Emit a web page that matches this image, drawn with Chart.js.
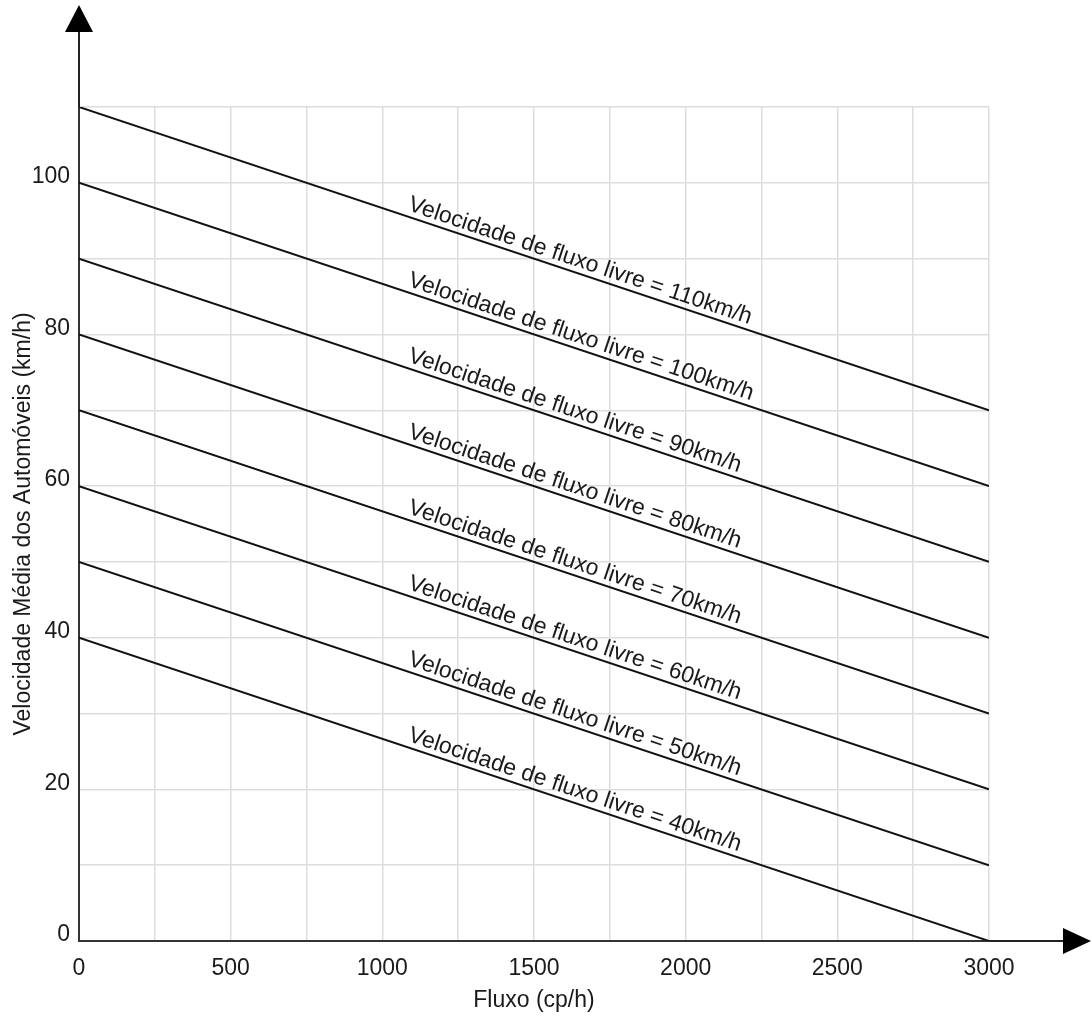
<!DOCTYPE html>
<html>
<head>
<meta charset="utf-8">
<title>Velocidade x Fluxo</title>
<script src="https://cdn.jsdelivr.net/npm/chart.js@4.4.0/dist/chart.umd.min.js"></script>
<style>
  html, body { margin: 0; padding: 0; background: #fff; }
  #wrap { width: 1092px; height: 1017px; }
</style>
</head>
<body>
<div id="wrap"><canvas id="chart" width="1092" height="1017"></canvas></div>
<script>
// Data
const flowPoints = [0, 3000];                        // cp/h at both ends of each line
const freeFlowSpeeds = [110, 100, 90, 80, 70, 60, 50, 40];  // km/h at flow 0
const speedsAt3000 = [70, 60, 50, 40, 30, 20, 10, 0];       // km/h at flow 3000
const lineLabels = freeFlowSpeeds.map((v) => "Velocidade de fluxo livre = " + v + "km/h");
const labelStartFlow = 1075;                         // where each label begins along its line

const FONT = "'Liberation Sans', Arial, sans-serif";
const TEXT = "#1a1a1a";
const SIZE = 23;

// Build one line dataset per free-flow speed
const datasets = freeFlowSpeeds.map((v, i) => ({
  label: lineLabels[i],
  data: [
    { x: flowPoints[0], y: v },
    { x: flowPoints[1], y: speedsAt3000[i] },
  ],
  showLine: true,
  borderColor: "#111",
  borderWidth: 2,
  pointRadius: 0,
  fill: false,
}));

// Draws the arrow heads on both axes and the rotated labels on each line
const decorations = {
  id: "decorations",
  afterDatasetsDraw(chart) {
    const ctx = chart.ctx;
    const area = chart.chartArea;
    const xs = chart.scales.x;
    const ys = chart.scales.y;

    // line labels
    ctx.save();
    ctx.font = SIZE + "px " + FONT;
    ctx.fillStyle = TEXT;
    ctx.textAlign = "left";
    ctx.textBaseline = "alphabetic";
    chart.data.datasets.forEach((ds) => {
      const p0 = ds.data[0], p1 = ds.data[1];
      const x0 = xs.getPixelForValue(p0.x), y0 = ys.getPixelForValue(p0.y);
      const x1 = xs.getPixelForValue(p1.x), y1 = ys.getPixelForValue(p1.y);
      const ang = Math.atan2(y1 - y0, x1 - x0);
      const t = (labelStartFlow - p0.x) / (p1.x - p0.x);
      const px = x0 + (x1 - x0) * t;
      const py = y0 + (y1 - y0) * t;
      ctx.save();
      ctx.translate(px, py);
      ctx.rotate(ang);
      ctx.fillText(ds.label, 0, -6);
      ctx.restore();
    });
    ctx.restore();

    // axis extensions and arrows
    ctx.save();
    ctx.strokeStyle = "#222";
    ctx.fillStyle = "#000";
    ctx.lineWidth = 2;
    ctx.beginPath();
    ctx.moveTo(area.left, area.top);
    ctx.lineTo(area.left, 30);
    ctx.moveTo(area.right, area.bottom);
    ctx.lineTo(1066, area.bottom);
    ctx.stroke();

    ctx.beginPath();
    ctx.moveTo(area.left, 5);
    ctx.lineTo(area.left - 14, 32);
    ctx.lineTo(area.left + 14, 32);
    ctx.closePath();
    ctx.fill();

    ctx.beginPath();
    ctx.moveTo(1091, area.bottom);
    ctx.lineTo(1063, area.bottom - 13);
    ctx.lineTo(1063, area.bottom + 13);
    ctx.closePath();
    ctx.fill();
    ctx.restore();
  },
};

new Chart(document.getElementById("chart"), {
  type: "scatter",
  data: { datasets: datasets },
  plugins: [decorations],
  options: {
    responsive: false,
    animation: false,
    layout: { padding: { top: 107, right: 103, left: 0, bottom: 0 } },
    plugins: {
      legend: { display: false },
      tooltip: { enabled: false },
    },
    scales: {
      x: {
        type: "linear",
        min: 0,
        max: 3000,
        afterFit(scale) { scale.height = 76; },
        grid: { color: "#dddddd", lineWidth: 1.5, drawTicks: false },
        border: { color: "#333", width: 2 },
        ticks: {
          stepSize: 250,
          padding: 14,
          color: TEXT,
          font: { family: FONT, size: SIZE },
          maxRotation: 0,
          autoSkip: false,
          callback: (v) => (v % 500 === 0 ? String(v) : ""),
        },
        title: {
          display: true,
          text: "Fluxo (cp/h)",
          color: TEXT,
          font: { family: FONT, size: SIZE },
          padding: { top: 3, bottom: 3 },
        },
      },
      y: {
        type: "linear",
        min: 0,
        max: 110,
        afterFit(scale) { scale.width = 79; },
        grid: { color: "#dddddd", lineWidth: 1.5, drawTicks: false },
        border: { color: "#333", width: 2 },
        ticks: {
          stepSize: 10,
          padding: 9,
          labelOffset: -6,
          color: TEXT,
          font: { family: FONT, size: SIZE },
          autoSkip: false,
          callback: (v) => (v % 20 === 0 && v <= 100 ? String(v) : ""),
        },
        title: {
          display: true,
          text: "Velocidade Média dos Automóveis (km/h)",
          color: TEXT,
          font: { family: FONT, size: SIZE },
          padding: { top: 10, bottom: 0 },
        },
      },
    },
  },
});
</script>
</body>
</html>
